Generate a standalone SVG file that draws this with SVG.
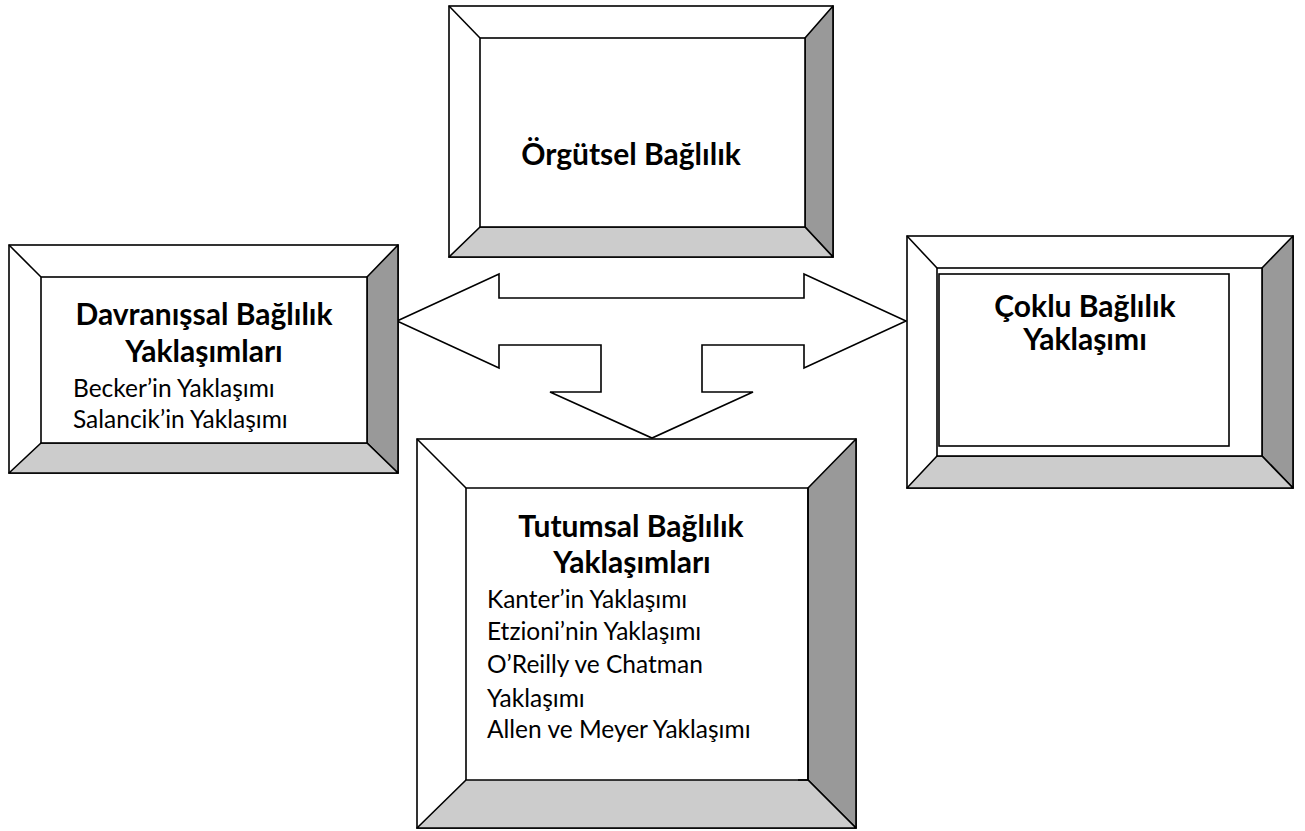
<svg xmlns="http://www.w3.org/2000/svg" width="1305" height="831" viewBox="0 0 1305 831">
<style>
.o{fill:#fff;stroke:#000;stroke-width:1.6}
.r{fill:#999;stroke:#000;stroke-width:1.6;stroke-linejoin:round}
.b{fill:#ccc;stroke:#000;stroke-width:1.6;stroke-linejoin:round}
.l{fill:none;stroke:#000;stroke-width:1.6}
.i{fill:#fff;stroke:#000;stroke-width:1.6}
.h{font-family:Lato,"Liberation Sans",sans-serif;font-weight:bold;font-size:30px;fill:#000;text-anchor:middle}
.t{font-family:Lato,"Liberation Sans",sans-serif;font-size:24.5px;fill:#000}
.ar{fill:#fff;stroke:#000;stroke-width:1.6;stroke-linejoin:miter}
</style>
<rect width="1305" height="831" fill="#fff"/>
<g id="connectors">
<polygon class="ar" points="397,321 499,274 499,298 804,298 804,274 906,321 804,368 804,345 702,345 702,392 753,392 652,438 550,392 601,392 601,345 499,345 499,368"/>
</g>
<g id="orgutsel">
<rect class="o" x="449" y="6" width="384" height="251"/>
<polygon class="r" points="833,6 833,257 805,227 805,38"/>
<polygon class="b" points="449,257 833,257 805,227 480,227"/>
<line class="l" x1="449" y1="6" x2="480" y2="38"/>
<rect class="i" x="480" y="38" width="325" height="189"/>
<text class="h" x="631" y="165">Örgütsel Bağlılık</text>
</g>
<g id="davranissal">
<rect class="o" x="9" y="245" width="389" height="228"/>
<polygon class="r" points="398,245 398,473 367,443 367,277"/>
<polygon class="b" points="9,473 398,473 367,443 41,443"/>
<line class="l" x1="9" y1="245" x2="41" y2="277"/>
<rect class="i" x="41" y="277" width="326" height="166"/>
<text class="h" x="204" y="325">Davranışsal Bağlılık</text>
<text class="h" x="204" y="362">Yaklaşımları</text>
<text class="t" x="73" y="397">Becker’in Yaklaşımı</text>
<text class="t" x="73" y="428">Salancik’in Yaklaşımı</text>
</g>
<g id="coklu">
<rect class="o" x="907" y="236" width="386" height="252"/>
<polygon class="r" points="1293,236 1293,488 1262,456 1262,268"/>
<polygon class="b" points="907,488 1293,488 1262,456 937,456"/>
<line class="l" x1="907" y1="236" x2="937" y2="268"/>
<rect class="i" x="937" y="268" width="325" height="188"/>
<rect class="i" x="939" y="274" width="290" height="172"/>
<text class="h" x="1085" y="317">Çoklu Bağlılık</text>
<text class="h" x="1085" y="350">Yaklaşımı</text>
</g>
<g id="tutumsal">
<rect class="o" x="417" y="439" width="439" height="389"/>
<polygon class="r" points="856,439 856,828 808,780 808,488"/>
<polygon class="b" points="417,828 856,828 808,780 466,780"/>
<line class="l" x1="417" y1="439" x2="466" y2="488"/>
<polyline class="l" points="466,780 466,488 808,488 808,780"/>
<line class="l" x1="798" y1="780" x2="808" y2="780"/>
<text class="h" x="631" y="537">Tutumsal Bağlılık</text>
<text class="h" x="632" y="573">Yaklaşımları</text>
<text class="t" x="487" y="608">Kanter’in Yaklaşımı</text>
<text class="t" x="487" y="640">Etzioni’nin Yaklaşımı</text>
<text class="t" x="487" y="673">O’Reilly ve Chatman</text>
<text class="t" x="487" y="707">Yaklaşımı</text>
<text class="t" x="487" y="738">Allen ve Meyer Yaklaşımı</text>
</g>
</svg>
